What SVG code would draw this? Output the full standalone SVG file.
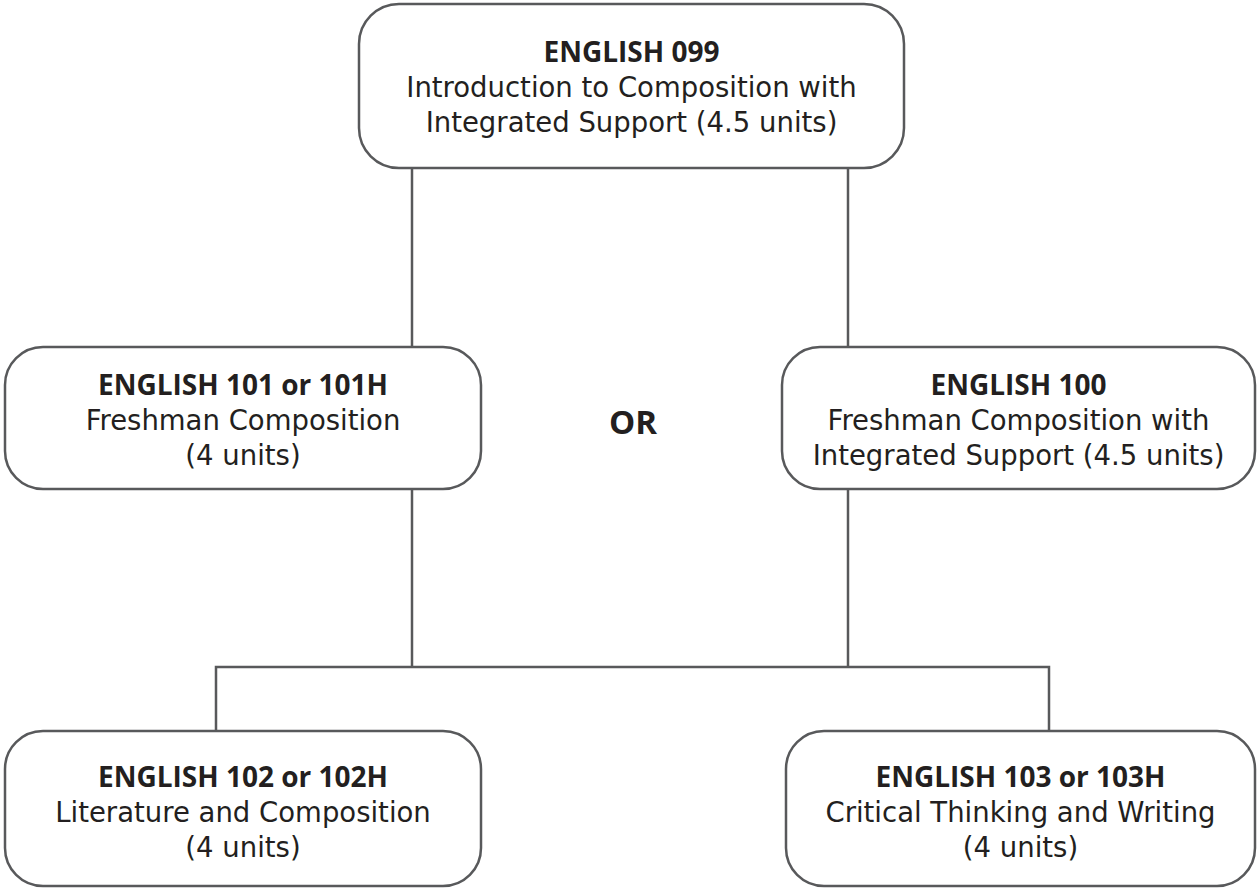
<svg xmlns="http://www.w3.org/2000/svg" width="1258" height="888" viewBox="0 0 1258 888">
<style>
.box{fill:#fff;stroke:#58595b;stroke-width:2.5}
.con{fill:none;stroke:#58595b;stroke-width:2.5}
text{font-family:"DejaVu Sans","Open Sans","Liberation Sans",sans-serif;font-size:27.5px;fill:#231f20;text-anchor:middle}
.b{font-family:"Open Sans","DejaVu Sans",sans-serif;font-weight:bold;font-size:28px}
.or{font-family:"Open Sans","DejaVu Sans",sans-serif;font-size:33px;font-weight:bold}
</style>
<rect width="1258" height="888" fill="#fff"/>
<g id="connectors">
<line class="con" x1="412" y1="168" x2="412" y2="347"/>
<line class="con" x1="848" y1="168" x2="848" y2="347"/>
<line class="con" x1="412" y1="489" x2="412" y2="667"/>
<line class="con" x1="848" y1="489" x2="848" y2="667"/>
<polyline class="con" points="216,731 216,667 1049,667 1049,731"/>
</g>
<g id="n099">
<rect class="box" x="359" y="4" width="545" height="164" rx="40"/>
<text x="631.5" y="62" class="b">ENGLISH 099</text>
<text x="631.5" y="97">Introduction to Composition with</text>
<text x="631.5" y="132">Integrated Support (4.5 units)</text>
</g>
<g id="n101">
<rect class="box" x="5" y="347" width="476" height="142" rx="38"/>
<text x="243" y="395" class="b">ENGLISH 101 or 101H</text>
<text x="243" y="430">Freshman Composition</text>
<text x="243" y="465">(4 units)</text>
</g>
<g id="or">
<text x="633" y="434" class="or">OR</text>
</g>
<g id="n100">
<rect class="box" x="782" y="347" width="473" height="142" rx="38"/>
<text x="1018.5" y="395" class="b">ENGLISH 100</text>
<text x="1018.5" y="430">Freshman Composition with</text>
<text x="1018.5" y="465">Integrated Support (4.5 units)</text>
</g>
<g id="n102">
<rect class="box" x="5" y="731" width="476" height="155" rx="38"/>
<text x="243" y="787" class="b">ENGLISH 102 or 102H</text>
<text x="243" y="822">Literature and Composition</text>
<text x="243" y="857">(4 units)</text>
</g>
<g id="n103">
<rect class="box" x="786" y="731" width="469" height="155" rx="38"/>
<text x="1020.5" y="787" class="b">ENGLISH 103 or 103H</text>
<text x="1020.5" y="822">Critical Thinking and Writing</text>
<text x="1020.5" y="857">(4 units)</text>
</g>
</svg>
